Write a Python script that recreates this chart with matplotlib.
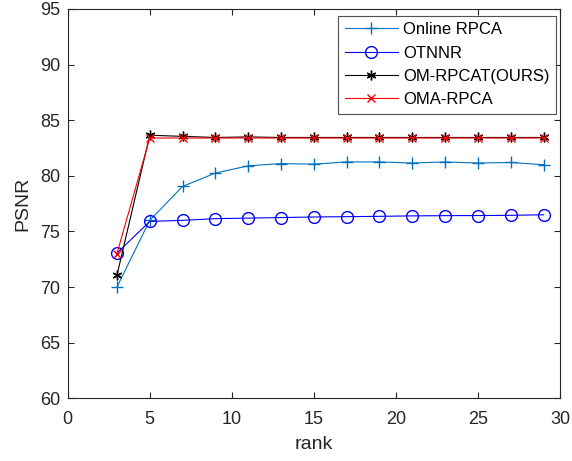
import matplotlib
matplotlib.use("Agg")
import matplotlib.pyplot as plt

plt.rcParams['font.family'] = ['Liberation Sans', 'DejaVu Sans']

rank = [3, 5, 7, 9, 11, 13, 15, 17, 19, 21, 23, 25, 27, 29]
online_rpca = [70.0, 76.0, 79.05, 80.25, 80.9, 81.1, 81.05, 81.25, 81.25, 81.15, 81.25, 81.15, 81.2, 81.0]
otnnr = [73.05, 75.9, 76.0, 76.15, 76.2, 76.25, 76.3, 76.33, 76.36, 76.4, 76.42, 76.43, 76.45, 76.5]
om_rpcat = [71.05, 83.65, 83.55, 83.45, 83.5, 83.45, 83.45, 83.45, 83.45, 83.45, 83.45, 83.45, 83.45, 83.45]
oma_rpca = [73.0, 83.4, 83.4, 83.4, 83.4, 83.4, 83.4, 83.4, 83.4, 83.4, 83.4, 83.4, 83.4, 83.4]

fig = plt.figure(figsize=(5.72, 4.61), dpi=100)
ax = fig.add_axes([67.7 / 572, (461 - 398.3) / 461, (560 - 67.7) / 572, (398.3 - 9) / 461])

ax.plot(rank, online_rpca, color='#0072BD', marker='+', markersize=8, lw=0.8, mew=1.0, label='Online RPCA')
ax.plot(rank, otnnr, color='#0000FF', marker='o', markersize=8.5, mfc='none', lw=0.8, mew=1.0, label='OTNNR')
ax.plot(rank, om_rpcat, color='black', marker=(6, 2, 0), markersize=7, lw=0.8, mew=1.0, label='OM-RPCAT(OURS)')
ax.plot(rank, oma_rpca, color='#FF0000', marker='x', markersize=6, lw=0.8, mew=1.0, label='OMA-RPCA')

ax.set_xlim(0, 30)
ax.set_ylim(60, 95)
ax.set_xticks(range(0, 31, 5))
ax.set_yticks(range(60, 96, 5))
ax.tick_params(direction='in', top=True, right=True, labelsize=13, colors='#262626', length=4)
ax.tick_params(axis='x', pad=9)
ax.tick_params(axis='y', pad=5.5)
for s in ax.spines.values():
    s.set_color('#262626')
    s.set_linewidth(0.8)
ax.set_xlabel('rank', fontsize=14, color='#262626', labelpad=6)
ax.set_ylabel('PSNR', fontsize=14, color='#262626', labelpad=6)

leg = ax.legend(loc='upper right', bbox_to_anchor=(0.992, 0.983), fontsize=12, frameon=True,
                fancybox=False, edgecolor='#262626', borderaxespad=0.0, handlelength=3.2,
                handletextpad=0.3, labelspacing=0.5, borderpad=0.4)
leg.get_frame().set_linewidth(0.8)

fig.savefig('out.png', dpi=100)
